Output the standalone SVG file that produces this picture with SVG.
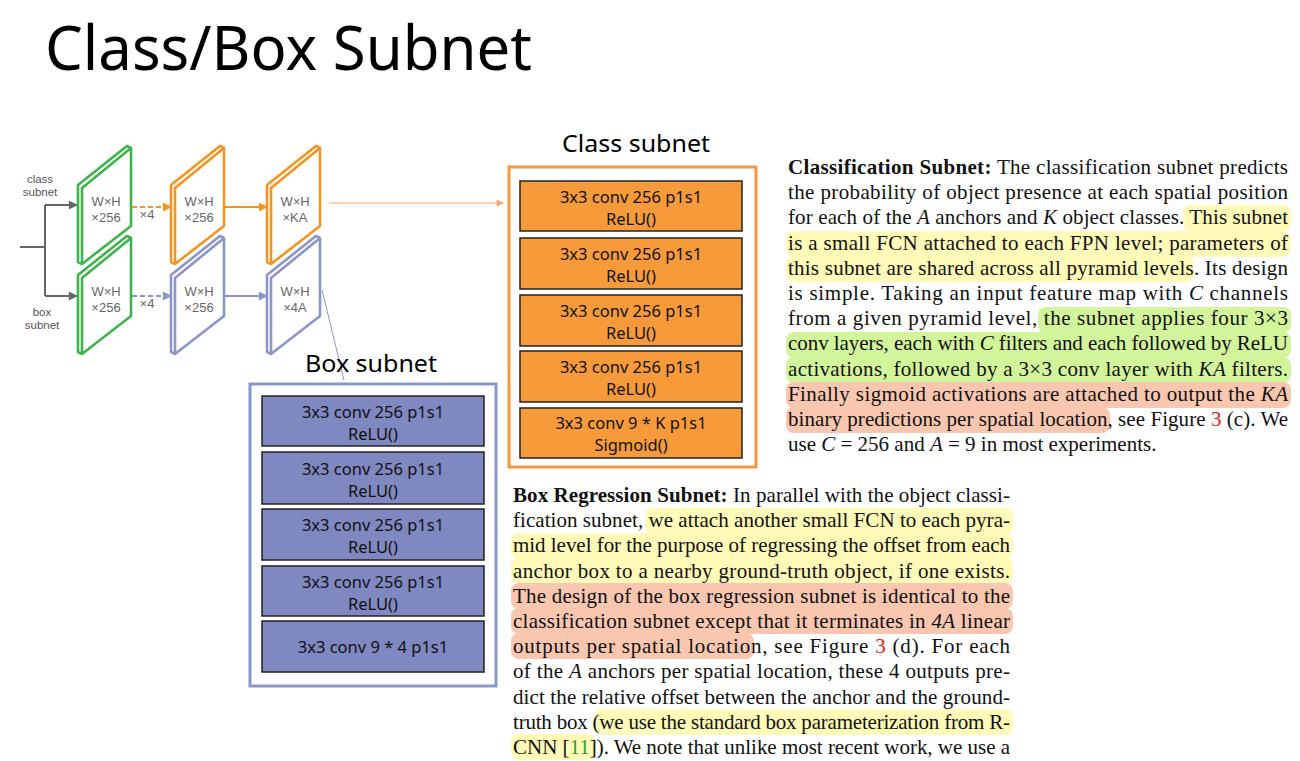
<svg xmlns="http://www.w3.org/2000/svg" width="1300" height="761" viewBox="0 0 1300 761">
<defs>
<style>
.title{font-family:"Noto Sans","Open Sans",sans-serif;font-size:62px;fill:#000}
.sub{font-family:"Noto Sans","Open Sans",sans-serif;font-size:24px;fill:#000}
.blk{font-family:"Noto Sans","Open Sans",sans-serif;font-size:16.5px;fill:#111;text-anchor:middle}
.ob{fill:#F79A3A;stroke:#222;stroke-width:1.5}
.bb{fill:#7F88C0;stroke:#222;stroke-width:1.5}
.slab{fill:#fff;stroke-width:2.6;stroke-linejoin:round}
.g{stroke:#3DB54A}.o{stroke:#F7941D}.b{stroke:#8C94CC}
.st{font-family:"Liberation Sans",Arial,sans-serif;font-size:13px;fill:#666;text-anchor:middle}
.lab{font-family:"Liberation Sans",Arial,sans-serif;font-size:11.5px;fill:#555;text-anchor:middle}
.p{font-family:"Liberation Serif","Times New Roman",serif;font-size:21px;fill:#111}
.bd{font-weight:bold}
.it{font-style:italic}
.hy{fill:#FFFAB8}.hg{fill:#D2F59C}.hs{fill:#F9C6AF}
</style>
<marker id="ag" viewBox="0 0 10 10" refX="9" refY="5" markerWidth="10" markerHeight="9" markerUnits="userSpaceOnUse" orient="auto"><path d="M0,0L10,5L0,10z" fill="#666"/></marker>
<marker id="ao" viewBox="0 0 10 10" refX="9" refY="5" markerWidth="10" markerHeight="9" markerUnits="userSpaceOnUse" orient="auto"><path d="M0,0L10,5L0,10z" fill="#F7941D"/></marker>
<marker id="ab" viewBox="0 0 10 10" refX="9" refY="5" markerWidth="10" markerHeight="9" markerUnits="userSpaceOnUse" orient="auto"><path d="M0,0L10,5L0,10z" fill="#8C94CC"/></marker>
<marker id="ao2" viewBox="0 0 10 10" refX="9" refY="5" markerWidth="8" markerHeight="7" markerUnits="userSpaceOnUse" orient="auto"><path d="M0,0L10,5L0,10z" fill="#F7A660"/></marker>
<g id="slabshape">
<path d="M0,38L49,-1L53,1L53,79L4,117L0,115Z"/>
<path d="M4,117L4,41L53,1" fill="none"/>
</g>
</defs>
<rect width="1300" height="761" fill="#fff"/>
<text class="title" x="45" y="70" textLength="487" lengthAdjust="spacingAndGlyphs">Class/Box Subnet</text>

<g id="connectors" fill="none" stroke-width="2">
<path d="M20,247H45M45,205V296" stroke="#666"/>
<path d="M45,205H77" stroke="#666" marker-end="url(#ag)"/>
<path d="M45,296H77" stroke="#666" marker-end="url(#ag)"/>
<path d="M124,207H171" stroke="#F7941D" stroke-dasharray="5,3" marker-end="url(#ao)"/>
<path d="M220,207H267" stroke="#F7941D" marker-end="url(#ao)"/>
<path d="M124,296H171" stroke="#8C94CC" stroke-dasharray="5,3" marker-end="url(#ab)"/>
<path d="M220,296H267" stroke="#8C94CC" marker-end="url(#ab)"/>
<path d="M329,203H503" stroke="#F7A660" stroke-width="1.2" marker-end="url(#ao2)"/>
<path d="M322,290L344,380" stroke="#8C94CC" stroke-width="1"/>
</g>

<g id="input-labels">
<text class="lab" x="40" y="183">class</text>
<text class="lab" x="40" y="196">subnet</text>
<text class="lab" x="42" y="316">box</text>
<text class="lab" x="42" y="329">subnet</text>
<text class="st" x="147" y="219">×4</text>
<text class="st" x="147" y="308">×4</text>
</g>

<g id="slab-c1"><use href="#slabshape" x="78" y="147" class="slab g"/><text class="st" x="106" y="206">W×H</text><text class="st" x="106" y="222">×256</text></g>
<g id="slab-c2"><use href="#slabshape" x="171" y="147" class="slab o"/><text class="st" x="199" y="206">W×H</text><text class="st" x="199" y="222">×256</text></g>
<g id="slab-c3"><use href="#slabshape" x="267" y="147" class="slab o"/><text class="st" x="295" y="206">W×H</text><text class="st" x="295" y="222">×KA</text></g>
<g id="slab-b1"><use href="#slabshape" x="78" y="237" class="slab g"/><text class="st" x="106" y="296">W×H</text><text class="st" x="106" y="312">×256</text></g>
<g id="slab-b2"><use href="#slabshape" x="171" y="237" class="slab b"/><text class="st" x="199" y="296">W×H</text><text class="st" x="199" y="312">×256</text></g>
<g id="slab-b3"><use href="#slabshape" x="267" y="237" class="slab b"/><text class="st" x="295" y="296">W×H</text><text class="st" x="295" y="312">×4A</text></g>

<g id="class-subnet">
<text class="sub" x="562" y="152" textLength="148" lengthAdjust="spacingAndGlyphs">Class subnet</text>
<rect x="509" y="167" width="247" height="300" fill="#fff" stroke="#F7963F" stroke-width="3"/>
<rect class="ob" x="520" y="181" width="222" height="50"/>
<text class="blk" x="631" y="203">3x3 conv 256 p1s1</text><text class="blk" x="631" y="225">ReLU()</text>
<rect class="ob" x="520" y="238" width="222" height="51"/>
<text class="blk" x="631" y="260">3x3 conv 256 p1s1</text><text class="blk" x="631" y="282">ReLU()</text>
<rect class="ob" x="520" y="295" width="222" height="51"/>
<text class="blk" x="631" y="317">3x3 conv 256 p1s1</text><text class="blk" x="631" y="339">ReLU()</text>
<rect class="ob" x="520" y="351" width="222" height="51"/>
<text class="blk" x="631" y="373">3x3 conv 256 p1s1</text><text class="blk" x="631" y="395">ReLU()</text>
<rect class="ob" x="520" y="408" width="222" height="50"/>
<text class="blk" x="631" y="429">3x3 conv 9 * K p1s1</text><text class="blk" x="631" y="451">Sigmoid()</text>
</g>

<g id="box-subnet">
<text class="sub" x="305" y="372" textLength="132" lengthAdjust="spacingAndGlyphs">Box subnet</text>
<rect x="250" y="384" width="246" height="302" fill="#fff" stroke="#8C96CC" stroke-width="3"/>
<rect class="bb" x="262" y="396" width="222" height="50"/>
<text class="blk" x="373" y="418">3x3 conv 256 p1s1</text><text class="blk" x="373" y="440">ReLU()</text>
<rect class="bb" x="262" y="452" width="222" height="52"/>
<text class="blk" x="373" y="475">3x3 conv 256 p1s1</text><text class="blk" x="373" y="497">ReLU()</text>
<rect class="bb" x="262" y="509" width="222" height="51"/>
<text class="blk" x="373" y="531">3x3 conv 256 p1s1</text><text class="blk" x="373" y="553">ReLU()</text>
<rect class="bb" x="262" y="566" width="222" height="50"/>
<text class="blk" x="373" y="588">3x3 conv 256 p1s1</text><text class="blk" x="373" y="610">ReLU()</text>
<rect class="bb" x="262" y="621" width="222" height="51"/>
<text class="blk" x="373" y="653">3x3 conv 9 * 4 p1s1</text>
</g>

<g id="classification-text">
<rect class="hy" x="1183" y="205" width="108" height="26" rx="8"/>
<rect class="hy" x="786" y="231" width="505" height="26" rx="8"/>
<rect class="hy" x="786" y="256" width="408" height="26" rx="8"/>
<rect class="hg" x="1038" y="307" width="253" height="26" rx="8"/>
<rect class="hg" x="786" y="332" width="505" height="26" rx="8"/>
<rect class="hg" x="786" y="357" width="505" height="26" rx="8"/>
<rect class="hs" x="786" y="382" width="505" height="26" rx="8"/>
<rect class="hs" x="786" y="407" width="324" height="26" rx="8"/>
<text class="p" x="788" y="174" textLength="500" lengthAdjust="spacing"><tspan class="bd">Classification Subnet:</tspan> The classification subnet predicts</text>
<text class="p" x="788" y="199.2" textLength="500" lengthAdjust="spacing">the probability of object presence at each spatial position</text>
<text class="p" x="788" y="224.4" textLength="500" lengthAdjust="spacing">for each of the <tspan class="it">A</tspan> anchors and <tspan class="it">K</tspan> object classes. This subnet</text>
<text class="p" x="788" y="249.6" textLength="500" lengthAdjust="spacing">is a small FCN attached to each FPN level; parameters of</text>
<text class="p" x="788" y="274.8" textLength="500" lengthAdjust="spacing">this subnet are shared across all pyramid levels. Its design</text>
<text class="p" x="788" y="300" textLength="500" lengthAdjust="spacing">is simple.  Taking an input feature map with <tspan class="it">C</tspan> channels</text>
<text class="p" x="788" y="325.2" textLength="500" lengthAdjust="spacing">from a given pyramid level, the subnet applies four 3×3</text>
<text class="p" x="788" y="350.4" textLength="500" lengthAdjust="spacing">conv layers, each with <tspan class="it">C</tspan> filters and each followed by ReLU</text>
<text class="p" x="788" y="375.6" textLength="500" lengthAdjust="spacing">activations, followed by a 3×3 conv layer with <tspan class="it">KA</tspan> filters.</text>
<text class="p" x="788" y="400.8" textLength="500" lengthAdjust="spacing">Finally sigmoid activations are attached to output the <tspan class="it">KA</tspan></text>
<text class="p" x="788" y="426" textLength="500" lengthAdjust="spacing">binary predictions per spatial location, see Figure <tspan fill="#E02020">3</tspan> (c). We</text>
<text class="p" x="788" y="451.2">use <tspan class="it">C</tspan> = 256 and <tspan class="it">A</tspan> = 9 in most experiments.</text>
</g>

<g id="box-regression-text">
<rect class="hy" x="645" y="508" width="368" height="26" rx="8"/>
<rect class="hy" x="511" y="533" width="502" height="26" rx="8"/>
<rect class="hy" x="511" y="558" width="502" height="26" rx="8"/>
<rect class="hs" x="511" y="583" width="502" height="26" rx="8"/>
<rect class="hs" x="511" y="608" width="502" height="26" rx="8"/>
<rect class="hs" x="511" y="633" width="243" height="26" rx="8"/>
<rect class="hy" x="594" y="709" width="419" height="26" rx="8"/>
<rect class="hy" x="511" y="734" width="84" height="26" rx="8"/>
<text class="p" x="513" y="502" textLength="497" lengthAdjust="spacing"><tspan class="bd">Box Regression Subnet:</tspan>  In parallel with the object classi-</text>
<text class="p" x="513" y="527.2" textLength="497" lengthAdjust="spacing">fication subnet, we attach another small FCN to each pyra-</text>
<text class="p" x="513" y="552.4" textLength="497" lengthAdjust="spacing">mid level for the purpose of regressing the offset from each</text>
<text class="p" x="513" y="577.6" textLength="497" lengthAdjust="spacing">anchor box to a nearby ground-truth object, if one exists.</text>
<text class="p" x="513" y="602.8" textLength="497" lengthAdjust="spacing">The design of the box regression subnet is identical to the</text>
<text class="p" x="513" y="628" textLength="497" lengthAdjust="spacing">classification subnet except that it terminates in <tspan class="it">4A</tspan> linear</text>
<text class="p" x="513" y="653.2" textLength="497" lengthAdjust="spacing">outputs per spatial location, see Figure <tspan fill="#E02020">3</tspan> (d).  For each</text>
<text class="p" x="513" y="678.4" textLength="497" lengthAdjust="spacing">of the <tspan class="it">A</tspan> anchors per spatial location, these 4 outputs pre-</text>
<text class="p" x="513" y="703.6" textLength="497" lengthAdjust="spacing">dict the relative offset between the anchor and the ground-</text>
<text class="p" x="513" y="728.8" textLength="497" lengthAdjust="spacing">truth box (we use the standard box parameterization from R-</text>
<text class="p" x="513" y="754" textLength="497" lengthAdjust="spacing">CNN [<tspan fill="#2E9E2E">11</tspan>]). We note that unlike most recent work, we use a</text>
</g>
</svg>
